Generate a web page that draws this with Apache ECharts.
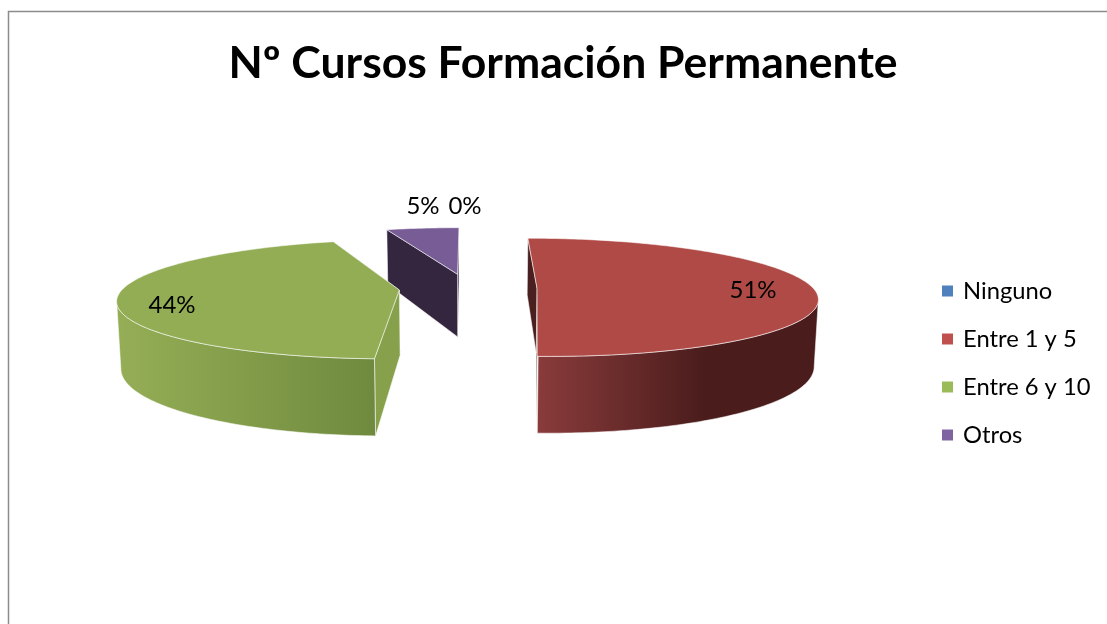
<!DOCTYPE html>
<html lang="es">
<head>
  <meta charset="UTF-8">
  <title>Nº Cursos Formación Permanente</title>
  <script src="https://cdn.jsdelivr.net/npm/echarts@6/dist/echarts.min.js"></script>
  <style>
    html, body { margin: 0; padding: 0; background: #fff; }
  </style>
</head>
<body>
  <div id="container" style="width: 1107px; height: 624px;"></div>
  <script>
    // data
    var categories = ['Ninguno', 'Entre 1 y 5', 'Entre 6 y 10', 'Otros'];
    var values = [0, 50.6, 44.4, 5];

    // colours
    var legendColors = ['#4f81bd', '#c0504d', '#9bbb59', '#8064a2'];
    var topColors = ['#4a7ab5', '#b04a46', '#93ad55', '#785c96'];
    var sideColors = ['#2a4a70', '#4a1f1f', '#87a04c', '#35263f'];
    var wallLight = ['#4f81bd', '#8a3b3b', '#95ae56', '#8064a2'];
    var wallDark = ['#2a4a70', '#4a1c1c', '#6f8a3e', '#35263f'];

    // where the percent labels sit
    var labelX = [465, 753, 172, 423];
    var labelY = [206, 290, 305, 206];

    // pie projection: a tilted disc with some perspective
    var cx = 468, cy = 288, radiusX = 276, radiusY = 57.6;
    var persp = 0.153, explode = 0.25, wallHeight = 65, lowerScale = 0.988;

    var total = values.reduce(function (a, b) { return a + b; }, 0);

    function startAngle(idx) {
      var sum = 0;
      for (var i = 0; i < idx; i++) sum += values[i];
      return sum / total * 360;
    }

    function rad(deg) { return deg * Math.PI / 180; }

    function project(wx, wy) {
      var w = 1 - persp * wy;
      return { x: cx + radiusX * wx / w, y: cy + radiusY * wy / w, w: w };
    }

    function topPt(p) { return [p.x, p.y]; }
    function lowPt(p) { return [cx + (p.x - cx) * lowerScale, p.y + wallHeight / p.w]; }

    function renderSlice(params, api) {
      var idx = params.seriesIndex;
      var value = api.value(0);
      var a0 = startAngle(idx);
      var a1 = a0 + value / total * 360;
      var mid = rad((a0 + a1) / 2);
      var ox = explode * Math.sin(mid);
      var oy = -explode * Math.cos(mid);

      function rim(deg) {
        return project(ox + Math.sin(rad(deg)), oy - Math.cos(rad(deg)));
      }

      var children = [];
      var label = {
        type: 'text',
        z2: 10,
        style: {
          x: labelX[idx], y: labelY[idx], text: Math.round(value / total * 100) + '%',
          font: '24px Lato', fill: '#000', align: 'center', verticalAlign: 'middle'
        }
      };
      if (value === 0) return { type: 'group', children: [label] };

      var apex = project(ox, oy);
      var first = rim(a0), last = rim(a1);
      var edge = 'rgba(255,255,255,0.55)';

      function radialWall(p) {
        return {
          type: 'polygon',
          shape: { points: [topPt(apex), topPt(p), lowPt(p), lowPt(apex)] },
          style: { fill: sideColors[idx], stroke: edge, lineWidth: 1 }
        };
      }
      children.push(radialWall(last));
      children.push(radialWall(first));

      // front wall runs between the left and right extremes of the rim
      var w0 = a0, w1 = a1, maxX = -Infinity, minX = Infinity, s;
      for (s = Math.max(a0, 60); s <= Math.min(a1, 180); s += 0.5) {
        if (rim(s).x > maxX) { maxX = rim(s).x; w0 = s; }
      }
      for (s = Math.max(a0, 180); s <= Math.min(a1, 300); s += 0.5) {
        if (rim(s).x < minX) { minX = rim(s).x; w1 = s; }
      }
      if (a0 < 300 && w1 > w0) {
        var upper = [], lower = [];
        for (var d = w0; d < w1; d += 1) {
          upper.push(topPt(rim(d)));
          lower.unshift(lowPt(rim(d)));
        }
        upper.push(topPt(rim(w1)));
        lower.unshift(lowPt(rim(w1)));
        children.push({
          type: 'polygon',
          shape: { points: upper.concat(lower) },
          style: {
            fill: new echarts.graphic.LinearGradient(0, 0, 1, 0, idx === 1 ? [
              { offset: 0, color: wallLight[idx] },
              { offset: 0.6, color: wallDark[idx] },
              { offset: 1, color: wallDark[idx] }
            ] : [
              { offset: 0, color: wallLight[idx] },
              { offset: 1, color: wallDark[idx] }
            ]),
            stroke: edge, lineWidth: 1
          }
        });
      }

      // top face
      var face = [topPt(apex)];
      for (var a = a0; a < a1; a += 1) face.push(topPt(rim(a)));
      face.push(topPt(last));
      children.push({
        type: 'polygon',
        shape: { points: face },
        style: { fill: topColors[idx], stroke: edge, lineWidth: 1 }
      });
      children.push(label);
      return { type: 'group', children: children };
    }

    var sliceZ = [5, 4, 3, 2];
    var series = categories.map(function (name, i) {
      return {
        name: name,
        type: 'custom',
        coordinateSystem: 'none',
        silent: true,
        animation: false,
        z: sliceZ[i],
        renderItem: renderSlice,
        itemStyle: { color: legendColors[i] },
        data: [[values[i]]]
      };
    });

    var myChart = echarts.init(document.getElementById('container'));
    myChart.setOption({
      backgroundColor: '#fff',
      animation: false,
      title: {
        text: 'Nº Cursos Formación Permanente',
        left: 558,
        top: 36,
        textAlign: 'center',
        textStyle: { fontFamily: 'Lato', fontWeight: 'bold', fontSize: 44.5, color: '#000' }
      },
      legend: {
        data: categories,
        orient: 'vertical',
        left: 942,
        top: 277,
        padding: 0,
        itemWidth: 11,
        itemHeight: 11,
        itemGap: 20,
        icon: 'rect',
        textStyle: { fontFamily: 'Lato', fontSize: 23.75, color: '#000', lineHeight: 28, padding: [0, 0, 0, 5] }
      },
      graphic: [{
        type: 'rect',
        silent: true,
        shape: { x: 8.5, y: 11.5, width: 1200, height: 700 },
        style: { fill: 'none', stroke: '#8c8c8c', lineWidth: 1.5 }
      }],
      series: series
    });
  </script>
</body>
</html>
